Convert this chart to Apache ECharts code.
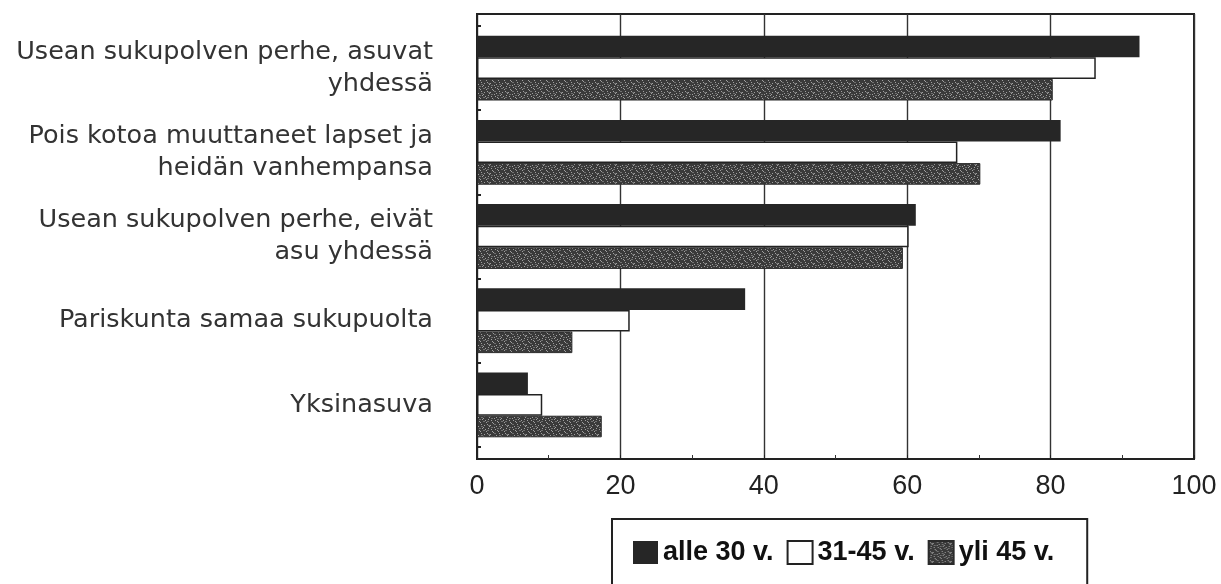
<!DOCTYPE html>
<html>
<head>
<meta charset="utf-8">
<script src="https://cdn.jsdelivr.net/npm/echarts@6/dist/echarts.min.js"></script>
<style>
html,body{margin:0;padding:0;background:#fff;}
#chart{width:1221px;height:584px;}
</style>
</head>
<body>
<div id="chart"></div>
<script>
const categories = [
  'Usean sukupolven perhe, asuvat\nyhdessä',
  'Pois kotoa muuttaneet lapset ja\nheidän vanhempansa',
  'Usean sukupolven perhe, eivät\nasu yhdessä',
  'Pariskunta samaa sukupuolta',
  'Yksinasuva'
];
const seriesNames = ['alle 30 v.', '31-45 v.', 'yli 45 v.'];
const under30 = [92.4, 81.4, 61.2, 37.4, 7.1];
const age31to45 = [86.3, 67.0, 60.2, 21.3, 9.1];
const over45 = [80.3, 70.2, 59.4, 13.3, 17.4];

// speckled texture for the "yli 45 v." bars (style only)
function makeTexture() {
  const c = document.createElement('canvas');
  c.width = 18; c.height = 9;
  const g = c.getContext('2d');
  g.fillStyle = '#3a3a3a';
  g.fillRect(0, 0, 18, 9);
  const specks = [[1,1],[4,2],[7,0],[10,3],[13,1],[16,2],[2,5],[5,6],[8,4],[11,7],[14,5],[17,6],[0,8],[6,8],[12,8],[3,3],[9,6],[15,4]];
  g.fillStyle = '#a0a0a0';
  specks.forEach(p => g.fillRect(p[0], p[1], 1, 1));
  g.fillStyle = '#707070';
  [[2,2],[8,1],[11,5],[15,7],[5,4],[1,7],[13,3]].forEach(p => g.fillRect(p[0], p[1], 2, 1));
  return c;
}
const texture = { image: makeTexture(), repeat: 'repeat' };

const chart = echarts.init(document.getElementById('chart'));
const axisFont = { fontFamily: 'Liberation Sans, Arial, sans-serif', fontSize: 27, color: '#222' };

chart.setOption({
  animation: false,
  backgroundColor: '#fff',
  grid: [
    { left: 477, right: 27, top: 14, bottom: 125, show: true, borderColor: '#222', borderWidth: 2, backgroundColor: 'transparent' },
    { left: 477, right: 27, top: 26, bottom: 137 }
  ],
  xAxis: [
    {
      gridIndex: 0, type: 'value', min: 0, max: 100, interval: 20,
      axisLine: { show: true, lineStyle: { color: '#222', width: 2 } },
      axisTick: { show: true, inside: true, length: 4, lineStyle: { color: '#222' } },
      minorTick: { show: true, splitNumber: 2, length: 4, lineStyle: { color: '#333' } },
      splitLine: { show: true, lineStyle: { color: '#333', width: 1.4 } },
      axisLabel: Object.assign({ margin: 14 }, axisFont)
    },
    { gridIndex: 1, type: 'value', min: 0, max: 100, show: false }
  ],
  yAxis: [
    {
      gridIndex: 0, type: 'value', min: 0, max: 1,
      axisLine: { show: true, lineStyle: { color: '#222', width: 2 } },
      axisTick: { show: false }, axisLabel: { show: false }, splitLine: { show: false }
    },
    {
      gridIndex: 1, type: 'category', data: categories, inverse: true,
      axisLine: { show: false },
      axisTick: { show: true, inside: true, length: 4, lineStyle: { color: '#222', width: 2 } },
      axisLabel: {
        margin: 44, fontFamily: '"DejaVu Sans", sans-serif', fontSize: 25.5, color: '#333',
        lineHeight: 32, align: 'right'
      }
    },
    {
      gridIndex: 1, type: 'category', data: categories, inverse: true,
      axisLine: { show: false },
      axisTick: { show: true, inside: true, alignWithLabel: true, length: 12, lineStyle: { color: '#222', width: 2 } },
      axisLabel: { show: false }, position: 'left', offset: 0
    }
  ],
  legend: {
    left: 612, top: 519,
    padding: [20, 33, 40, 21],
    borderColor: '#222', borderWidth: 2,
    icon: 'rect',
    itemWidth: 25, itemHeight: 23, itemGap: 13,
    data: seriesNames,
    textStyle: { fontFamily: 'Liberation Sans, Arial, sans-serif', fontSize: 27, fontWeight: 'bold', color: '#111' }
  },
  series: [
    {
      name: seriesNames[0], type: 'bar', xAxisIndex: 1, yAxisIndex: 1,
      data: under30, barGap: '0%', barCategoryGap: '23%',
      itemStyle: { color: '#262626', borderColor: '#262626', borderWidth: 0 }
    },
    {
      name: seriesNames[1], type: 'bar', xAxisIndex: 1, yAxisIndex: 1,
      data: age31to45,
      itemStyle: { color: '#ffffff', borderColor: '#222', borderWidth: 1.5 }
    },
    {
      name: seriesNames[2], type: 'bar', xAxisIndex: 1, yAxisIndex: 1,
      data: over45,
      itemStyle: { color: texture, borderColor: '#2a2a2a', borderWidth: 1 }
    }
  ]
});
</script>
</body>
</html>
